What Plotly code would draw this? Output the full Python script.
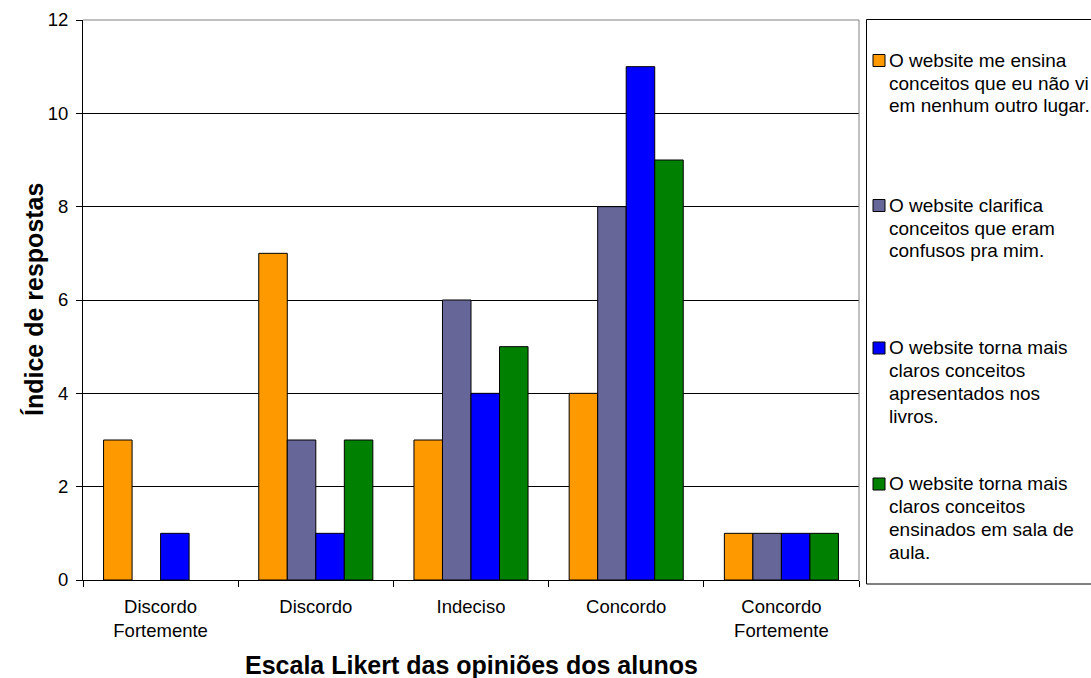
import plotly.graph_objects as go

# Likert categories (x axis)
categories = ["Discordo<br>Fortemente", "Discordo", "Indeciso", "Concordo", "Concordo<br>Fortemente"]

# Number of answers per statement
ensina_novos = [3, 7, 3, 4, 1]
clarifica_confusos = [0, 3, 6, 8, 1]
claros_livros = [1, 1, 4, 11, 1]
claros_sala = [0, 3, 5, 9, 1]

series_names = [
    "O website me ensina<br>conceitos que eu não vi<br>em nenhum outro lugar.",
    "O website clarifica<br>conceitos que eram<br>confusos pra mim.",
    "O website torna mais<br>claros conceitos<br>apresentados nos<br>livros.",
    "O website torna mais<br>claros conceitos<br>ensinados em sala de<br>aula.",
]
series_values = [ensina_novos, clarifica_confusos, claros_livros, claros_sala]
series_colors = ["#FF9900", "#666699", "#0000FF", "#008000"]

y_ticks = [0, 2, 4, 6, 8, 10, 12]

FONT = "Liberation Sans, Arial, sans-serif"
W, H = 1091, 678
L, R, T, B = 83, 859, 20, 580  # plot area in pixels
LEGEND_LINE = 22.7  # legend line pitch in pixels


def px_x(px):
    return (px - L) / (R - L)


def px_y(py):
    return (B - py) / (B - T)


fig = go.Figure()
for name, vals, color in zip(series_names, series_values, series_colors):
    fig.add_bar(
        x=categories,
        y=vals,
        name=name.replace("<br>", " "),
        # no outline on empty bars so nothing is drawn for a zero count
        marker=dict(color=color,
                    line=dict(color="#000000", width=[0 if v == 0 else 1 for v in vals])),
        showlegend=False,
    )

shapes = [
    # grey frame on top and right of the plot area
    dict(type="line", xref="paper", yref="paper", x0=0, x1=1, y0=1, y1=1,
         line=dict(color="#808080", width=1), layer="above"),
    dict(type="line", xref="paper", yref="paper", x0=1, x1=1, y0=0, y1=1,
         line=dict(color="#808080", width=1), layer="above"),
    # legend box
    dict(type="rect", xref="paper", yref="paper",
         x0=px_x(866.5), x1=px_x(1110), y0=px_y(584), y1=px_y(19.5),
         line=dict(color="#000000", width=1), fillcolor="rgba(0,0,0,0)"),
]

annotations = []
legend_tops = [54.5, 199.5, 342, 478]
for name, color, top in zip(series_names, series_colors, legend_tops):
    shapes.append(dict(type="rect", xref="paper", yref="paper",
                       x0=px_x(873), x1=px_x(885), y0=px_y(top + 12), y1=px_y(top),
                       line=dict(color="#000000", width=1), fillcolor=color))
    for k, line in enumerate(name.split("<br>")):
        annotations.append(dict(text=line, xref="paper", yref="paper",
                                x=px_x(886.5), y=px_y(top + 6 + k * LEGEND_LINE),
                                xanchor="left", yanchor="middle",
                                align="left", showarrow=False,
                                font=dict(family=FONT, size=19, color="#000000")))

# axis titles
annotations.append(dict(text="<b>Escala Likert das opiniões dos alunos</b>",
                        xref="paper", yref="paper", x=0.5, y=px_y(665),
                        xanchor="center", yanchor="middle", showarrow=False,
                        font=dict(family=FONT, size=25, color="#000000")))
annotations.append(dict(text="<b>Índice de respostas</b>", textangle=-90,
                        xref="paper", yref="paper", x=px_x(34), y=px_y(300),
                        xanchor="center", yanchor="middle", showarrow=False,
                        font=dict(family=FONT, size=25, color="#000000")))

fig.update_layout(
    width=W, height=H,
    margin=dict(l=L, r=W - R, t=T, b=H - B, autoexpand=False),
    paper_bgcolor="#FFFFFF", plot_bgcolor="#FFFFFF",
    barmode="group", bargap=0.265, bargroupgap=0,
    font=dict(family=FONT, size=18.5, color="#000000"),
    shapes=shapes, annotations=annotations,
    xaxis=dict(
        showline=True, linecolor="#000000", linewidth=1,
        ticks="outside", tickson="boundaries", ticklen=6, tickcolor="#000000",
        ticklabelstandoff=10,
        showgrid=False, tickfont=dict(family=FONT, size=18.5, color="#000000"),
        automargin=False,
    ),
    yaxis=dict(
        range=[0, 12], tickvals=y_ticks, ticktext=[str(v) for v in y_ticks],
        showline=True, linecolor="#000000", linewidth=1,
        ticks="outside", ticklen=6, tickcolor="#000000",
        ticklabelstandoff=4,
        showgrid=True, gridcolor="#000000", gridwidth=1, zeroline=False,
        tickfont=dict(family=FONT, size=18.5, color="#000000"),
        automargin=False,
    ),
)

fig.write_html("out.html")
